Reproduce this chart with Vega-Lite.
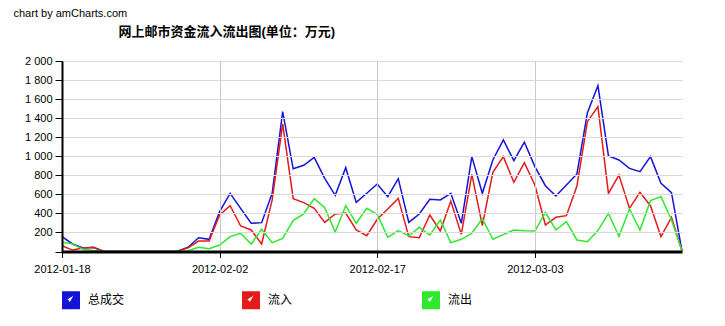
{
  "$schema": "https://vega.github.io/schema/vega-lite/v6.json",
  "width": 620,
  "height": 190.5,
  "autosize": {"type": "none"},
  "padding": {"left": 62, "top": 61, "right": 43, "bottom": 74.5},
  "background": "white",
  "data": {"values": [
    {"date": "2012-01-18", "总成交": 155, "流入": 61, "流出": 97},
    {"date": "2012-01-19", "总成交": 79, "流入": 15, "流出": 80},
    {"date": "2012-01-20", "总成交": 37, "流入": 37, "流出": 23},
    {"date": "2012-01-21", "总成交": 45, "流入": 42, "流出": 10},
    {"date": "2012-01-22", "总成交": 0, "流入": 0, "流出": 0},
    {"date": "2012-01-23", "总成交": 0, "流入": 0, "流出": 0},
    {"date": "2012-01-24", "总成交": 0, "流入": 0, "流出": 0},
    {"date": "2012-01-25", "总成交": 0, "流入": 0, "流出": 0},
    {"date": "2012-01-26", "总成交": 0, "流入": 0, "流出": 0},
    {"date": "2012-01-27", "总成交": 0, "流入": 0, "流出": 0},
    {"date": "2012-01-28", "总成交": 0, "流入": 0, "流出": 0},
    {"date": "2012-01-29", "总成交": 3, "流入": 3, "流出": 0},
    {"date": "2012-01-30", "总成交": 45, "流入": 38, "流出": 8},
    {"date": "2012-01-31", "总成交": 145, "流入": 110, "流出": 44},
    {"date": "2012-02-01", "总成交": 128, "流入": 110, "流出": 30},
    {"date": "2012-02-02", "总成交": 418, "流入": 383, "流出": 68},
    {"date": "2012-02-03", "总成交": 611, "流入": 481, "流出": 156},
    {"date": "2012-02-04", "总成交": 453, "流入": 268, "流出": 191},
    {"date": "2012-02-05", "总成交": 296, "流入": 226, "流出": 79},
    {"date": "2012-02-06", "总成交": 303, "流入": 79, "流出": 233},
    {"date": "2012-02-07", "总成交": 611, "流入": 541, "流出": 93},
    {"date": "2012-02-08", "总成交": 1468, "流入": 1339, "流出": 138},
    {"date": "2012-02-09", "总成交": 868, "流入": 555, "流出": 325},
    {"date": "2012-02-10", "总成交": 905, "流入": 513, "流出": 394},
    {"date": "2012-02-11", "总成交": 989, "流入": 453, "流出": 555},
    {"date": "2012-02-12", "总成交": 768, "流入": 306, "流出": 460},
    {"date": "2012-02-13", "总成交": 590, "流入": 394, "流出": 205},
    {"date": "2012-02-14", "总成交": 880, "流入": 404, "流出": 481},
    {"date": "2012-02-15", "总成交": 516, "流入": 226, "流出": 296},
    {"date": "2012-02-16", "总成交": 611, "流入": 166, "流出": 453},
    {"date": "2012-02-17", "总成交": 709, "流入": 338, "流出": 390},
    {"date": "2012-02-18", "总成交": 576, "流入": 446, "流出": 149},
    {"date": "2012-02-19", "总成交": 765, "流入": 558, "流出": 219},
    {"date": "2012-02-20", "总成交": 306, "流入": 156, "流出": 163},
    {"date": "2012-02-21", "总成交": 394, "流入": 145, "流出": 254},
    {"date": "2012-02-22", "总成交": 548, "流入": 383, "流出": 173},
    {"date": "2012-02-23", "总成交": 541, "流入": 215, "流出": 331},
    {"date": "2012-02-24", "总成交": 611, "流入": 530, "流出": 93},
    {"date": "2012-02-25", "总成交": 296, "流入": 180, "流出": 128},
    {"date": "2012-02-26", "总成交": 996, "流入": 810, "流出": 191},
    {"date": "2012-02-27", "总成交": 611, "流入": 271, "流出": 345},
    {"date": "2012-02-28", "总成交": 961, "流入": 831, "流出": 128},
    {"date": "2012-02-29", "总成交": 1171, "流入": 996, "流出": 177},
    {"date": "2012-03-01", "总成交": 954, "流入": 727, "流出": 226},
    {"date": "2012-03-02", "总成交": 1148, "流入": 933, "流出": 219},
    {"date": "2012-03-03", "总成交": 891, "流入": 698, "流出": 215},
    {"date": "2012-03-04", "总成交": 691, "流入": 278, "流出": 411},
    {"date": "2012-03-05", "总成交": 583, "流入": 359, "流出": 226},
    {"date": "2012-03-06", "总成交": 698, "流入": 376, "流出": 313},
    {"date": "2012-03-07", "总成交": 814, "流入": 688, "流出": 121},
    {"date": "2012-03-08", "总成交": 1458, "流入": 1363, "流出": 103},
    {"date": "2012-03-09", "总成交": 1741, "流入": 1521, "流出": 219},
    {"date": "2012-03-10", "总成交": 1003, "流入": 611, "流出": 401},
    {"date": "2012-03-11", "总成交": 961, "流入": 803, "流出": 156},
    {"date": "2012-03-12", "总成交": 873, "流入": 453, "流出": 446},
    {"date": "2012-03-13", "总成交": 838, "流入": 621, "流出": 226},
    {"date": "2012-03-14", "总成交": 996, "流入": 481, "流出": 534},
    {"date": "2012-03-15", "总成交": 716, "流入": 156, "流出": 576},
    {"date": "2012-03-16", "总成交": 618, "流入": 359, "流出": 331},
    {"date": "2012-03-17", "总成交": 5, "流入": 5, "流出": 5}
  ]},
  "transform": [{"fold": ["总成交", "流入", "流出"], "as": ["series", "value"]}],
  "mark": {"type": "line", "strokeWidth": 1.5},
  "encoding": {
    "x": {
      "field": "date",
      "type": "temporal",
      "scale": {"type": "utc", "domain": [{"year": 2012, "month": 1, "date": 18, "utc": true}, {"year": 2012, "month": 3, "date": 17, "utc": true}]},
      "axis": {
        "values": [
          {"year": 2012, "month": 1, "date": 18, "utc": true},
          {"year": 2012, "month": 2, "date": 2, "utc": true},
          {"year": 2012, "month": 2, "date": 17, "utc": true},
          {"year": 2012, "month": 3, "date": 3, "utc": true}
        ],
        "labelExpr": "utcFormat(datum.value, '%Y-%m-%d')",
        "labelFlush": false,
        "labelFontSize": 11,
        "labelColor": "black",
        "labelPadding": 6,
        "tickSize": 6,
        "tickColor": "black",
        "domainColor": "black",
        "domainWidth": 3,
        "gridColor": "#c8c8c8",
        "zindex": 1,
        "title": "网上邮市资金流入流出图(单位：万元)",
        "titleX": 56,
        "titleY": -220,
        "titleAlign": "left",
        "titleBaseline": "middle",
        "titleFontSize": 13,
        "titleFontWeight": "bold",
        "titleColor": "black"
      }
    },
    "y": {
      "field": "value",
      "type": "quantitative",
      "scale": {"domain": [0, 2000], "nice": false},
      "axis": {
        "values": [0, 200, 400, 600, 800, 1000, 1200, 1400, 1600, 1800, 2000],
        "labelExpr": "datum.value == 0 ? '' : replace(format(datum.value, ','), ',', ' ')",
        "labelFontSize": 11,
        "labelColor": "black",
        "labelPadding": 3,
        "tickSize": 7,
        "tickColor": "black",
        "domainColor": "black",
        "domainWidth": 2,
        "gridColor": "#d9d9d9",
        "zindex": 1,
        "title": "chart by amCharts.com",
        "titleX": -49,
        "titleY": -48,
        "titleAngle": 0,
        "titleAlign": "left",
        "titleBaseline": "middle",
        "titleFontSize": 11,
        "titleFontWeight": "normal",
        "titleColor": "black"
      }
    },
    "color": {
      "field": "series",
      "type": "nominal",
      "scale": {"domain": ["总成交", "流入", "流出"], "range": ["#1414d8", "#e51a1a", "#2ee82e"]},
      "legend": {
        "orient": "none",
        "legendX": 0,
        "legendY": 230,
        "direction": "horizontal",
        "title": null,
        "padding": 0,
        "symbolType": "M-1,-1H1V1H-1Z M-0.62,-0.05L-0.15,0.6L0.68,-0.8",
        "symbolSize": 225,
        "symbolStrokeWidth": 3,
        "symbolStrokeColor": "white",
        "labelFontSize": 12,
        "labelColor": "black",
        "labelOffset": 8,
        "columnPadding": 112,
        "gridAlign": "all",
        "encode": {
          "symbols": {
            "update": {
              "fill": {"scale": "color", "field": "value"},
              "stroke": {"value": "white"},
              "opacity": {"value": 1}
            }
          }
        }
      }
    }
  },
  "config": {
    "font": "Liberation Sans, Arial, Noto Sans CJK SC",
    "view": {"stroke": null}
  }
}
